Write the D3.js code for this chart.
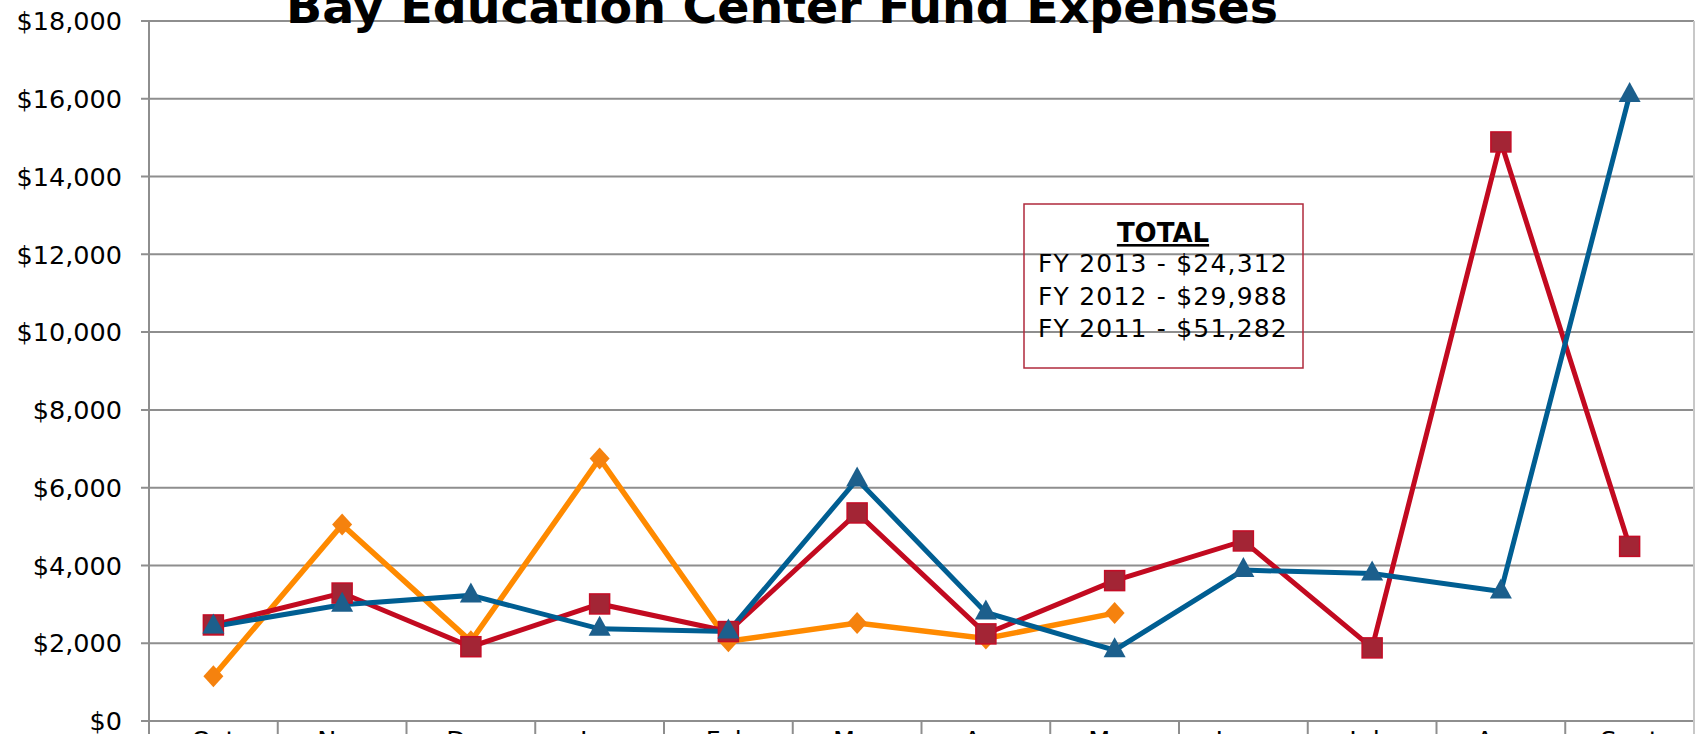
<!DOCTYPE html>
<html><head><meta charset="utf-8">
<script src="https://cdn.jsdelivr.net/npm/d3@7"></script>
<style>html,body{margin:0;padding:0;background:#fff;overflow:hidden}svg{display:block}</style>
</head><body>
<svg id="chart" width="1695" height="734"></svg>
<script>
const months = ["Oct","Nov","Dec","Jan","Feb","Mar","Apr","May","June","July","Aug","Sept"];
const fy2013 = [1150,5050,2050,6750,2050,2520,2120,2775,null,null,null,null];
const fy2011 = [2470,3290,1910,3010,2300,5350,2240,3610,4630,1880,14890,4490];
const fy2012 = [2430,2990,3230,2370,2300,6210,2790,1820,3880,3790,3330,16100];
const yTicks = [0,2000,4000,6000,8000,10000,12000,14000,16000,18000];
const totals = ["FY 2013 - $24,312","FY 2012 - $29,988","FY 2011 - $51,282"];

const svg = d3.select("#chart");
const L = 149, R = 1694, T = 21, B = 721;
const x = d3.scaleBand().domain(months).range([L, R]);
const y = d3.scaleLinear().domain([0,18000]).range([B, T]);
const cx = m => x(m) + x.bandwidth()/2;
const grid = "#8e8e8e";
const font = "DejaVu Sans, Verdana, sans-serif";

// gridlines
svg.append("g").selectAll("line").data(yTicks).join("line")
  .attr("x1", L-8).attr("x2", R).attr("y1", d=>y(d)).attr("y2", d=>y(d))
  .attr("stroke", grid).attr("stroke-width", 2);

// y labels
const fmt = d3.format("$,");
svg.append("g").selectAll("text").data(yTicks).join("text")
  .attr("x", 122).attr("y", d=>y(d)).attr("dy","0.36em")
  .attr("text-anchor","end").attr("font-family",font)
  .attr("font-size", 25.5).attr("fill","#000").text(d=>fmt(d));

// axes border
svg.append("line").attr("x1",L).attr("x2",L).attr("y1",T).attr("y2",734).attr("stroke",grid).attr("stroke-width",2);
svg.append("line").attr("x1",R).attr("x2",R).attr("y1",T).attr("y2",734).attr("stroke","#c8c8c8").attr("stroke-width",2);

// category separators
svg.append("g").selectAll("line").data(months.slice(1)).join("line")
  .attr("x1", d=>x(d)).attr("x2", d=>x(d)).attr("y1", B).attr("y2", 734)
  .attr("stroke", grid).attr("stroke-width", 2);

svg.append("g").selectAll("text").data(months).join("text")
  .attr("x", d=>cx(d)).attr("y", 749).attr("text-anchor","middle")
  .attr("font-family",font).attr("font-size",25.5).attr("fill","#000")
  .text(d=>d);

// title
svg.append("text").attr("x", 782).attr("y", 23).attr("text-anchor","middle")
  .attr("font-family",font).attr("font-weight","bold")
  .attr("font-size", 46).attr("fill","#000").attr("textLength", 992).attr("lengthAdjust","spacingAndGlyphs")
  .text("Bay Education Center Fund Expenses");

// totals box
const bx = svg.append("g");
bx.append("rect").attr("x",1024).attr("y",204).attr("width",279).attr("height",164)
  .attr("fill","none").attr("stroke","#b02a3c").attr("stroke-width",1.5);

const lineGen = d3.line().defined(d=>d.v!=null).x(d=>cx(d.m)).y(d=>y(d.v));
function series(vals, color, width){
  const data = months.map((m,i)=>({m, v: vals[i]}));
  svg.append("path").datum(data).attr("d", lineGen).attr("fill","none")
    .attr("stroke", color).attr("stroke-width", width).attr("stroke-linejoin","miter");
  return data.filter(d=>d.v!=null);
}

const dOr = series(fy2013, "#ff8a00", 5.5);
svg.append("g").selectAll("path").data(dOr).join("path")
  .attr("transform", d=>`translate(${cx(d.m)},${y(d.v)})`)
  .attr("d", "M0,-11L10,0L0,11L-10,0Z").attr("fill","#f5820e");

const dRed = series(fy2011, "#c20a20", 5);
const dBlue = series(fy2012, "#005e92", 5);

svg.append("g").selectAll("rect").data(dRed).join("rect")
  .attr("x", d=>cx(d.m)-10).attr("y", d=>y(d.v)-10).attr("width",20).attr("height",20)
  .attr("fill","#a32535").attr("stroke","#c40c26").attr("stroke-width",1.5);

svg.append("g").selectAll("path").data(dBlue).join("path")
  .attr("transform", d=>`translate(${cx(d.m)},${y(d.v)})`)
  .attr("d", "M0,-13L11,7L-11,7Z").attr("fill","#1c5f8c");

// totals text (drawn over)
bx.append("text").attr("x",1163).attr("y",242).attr("text-anchor","middle")
  .attr("font-family",font).attr("font-weight","bold").attr("font-size",26)
  .attr("text-decoration","underline").attr("fill","#000").text("TOTAL");
bx.append("g").selectAll("text").data(totals).join("text")
  .attr("x",1163).attr("y",(d,i)=>272+i*32.5).attr("text-anchor","middle")
  .attr("font-family",font).attr("font-size",25).attr("letter-spacing",1.2)
  .attr("fill","#000").text(d=>d);
</script>
</body></html>
